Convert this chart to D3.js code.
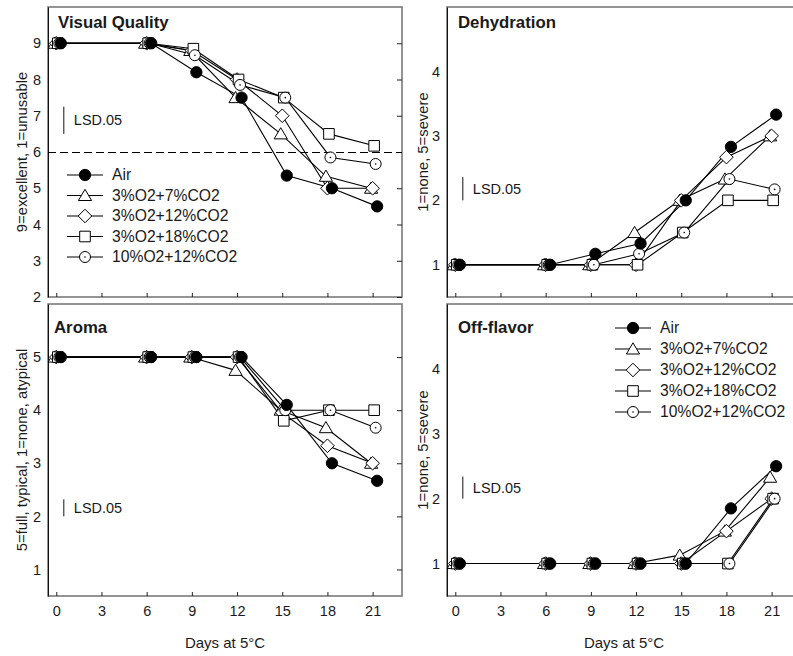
<!DOCTYPE html>
<html>
<head>
<meta charset="utf-8">
<script src="https://cdn.jsdelivr.net/npm/d3@7"></script>
<style>
  body { margin: 0; background: #fff; }
  svg text { font-family: "Liberation Sans", Arial, sans-serif; fill: #1a1a1a; }
</style>
</head>
<body>
<svg id="canvas" width="793" height="656"></svg>
<script>
/************* Data **************/
var days = [0, 6, 9, 12, 15, 18, 21];
var xTicks = [0, 3, 6, 9, 12, 15, 18, 21];
var seriesNames = ["Air", "3%O2+7%CO2", "3%O2+12%CO2", "3%O2+18%CO2", "10%O2+12%CO2"];

// Visual Quality
var visualAir      = [9, 9, 8.2, 7.5, 5.35, 5.0, 4.5];
var visualO3C7     = [9, 9, 8.8, 7.5, 6.5, 5.33, 5.0];
var visualO3C12    = [9, 9, 8.8, 8.0, 7.0, 5.0, 5.0];
var visualO3C18    = [9, 9, 8.85, 8.0, 7.5, 6.5, 6.17];
var visualO10C12   = [9, 9, 8.67, 7.85, 7.5, 5.85, 5.67];

// Dehydration
var dehydAir       = [1, 1, 1.17, 1.33, 2.0, 2.83, 3.33];
var dehydO3C7      = [1, 1, 1.0, 1.5, 2.0, 2.33, 3.0];
var dehydO3C12     = [1, 1, 1.0, 1.0, 2.0, 2.67, 3.0];
var dehydO3C18     = [1, 1, 1.0, 1.0, 1.5, 2.0, 2.0];
var dehydO10C12    = [1, 1, 1.0, 1.17, 1.5, 2.33, 2.17];

// Aroma
var aromaAir       = [5, 5, 5, 5, 4.1, 3.0, 2.67];
var aromaO3C7      = [5, 5, 5, 4.75, 4.0, 3.67, 3.0];
var aromaO3C12     = [5, 5, 5, 5, 3.95, 3.33, 3.0];
var aromaO3C18     = [5, 5, 5, 5, 3.8, 4.0, 4.0];
var aromaO10C12    = [5, 5, 5, 5, 4.0, 4.0, 3.67];

// Off-flavor
var offAir         = [1, 1, 1, 1, 1, 1.85, 2.5];
var offO3C7        = [1, 1, 1, 1, 1.13, 1.5, 2.33];
var offO3C12       = [1, 1, 1, 1, 1, 1.5, 2.0];
var offO3C18       = [1, 1, 1, 1, 1, 1.0, 2.0];
var offO10C12      = [1, 1, 1, 1, 1, 1.0, 2.0];

var panelTitles = ["Visual Quality", "Dehydration", "Aroma", "Off-flavor"];
var yTitles = ["9=excellent, 1=unusable", "1=none, 5=severe",
               "5=full, typical, 1=none, atypical", "1=none, 5=severe"];
var yDomains = [[2, 10], [0.5, 5], [0.5, 6], [0.5, 5]];
var yTicks = [[2, 3, 4, 5, 6, 7, 8, 9], [1, 2, 3, 4], [1, 2, 3, 4, 5], [1, 2, 3, 4]];
var lsdLength = [0.75, 0.36, 0.32, 0.34];
var lsdBase = [6.5, 2.0, 2.0, 2.0];
var xTitle = "Days at 5°C";

var panelSeries = [
    [visualAir, visualO3C7, visualO3C12, visualO3C18, visualO10C12],
    [dehydAir, dehydO3C7, dehydO3C12, dehydO3C18, dehydO10C12],
    [aromaAir, aromaO3C7, aromaO3C12, aromaO3C18, aromaO10C12],
    [offAir, offO3C7, offO3C12, offO3C18, offO10C12]
];


/********** Initialisation *********/
var svg = d3.select("#canvas");

// panel boxes: left, top, right, bottom
var boxes = [
    {x0: 48,  y0: 7,   x1: 402, y1: 297},
    {x0: 447, y0: 7,   x1: 801, y1: 297},
    {x0: 48,  y0: 304, x1: 402, y1: 596},
    {x0: 447, y0: 304, x1: 801, y1: 596}
];
var titlePos = [[58, 28], [458, 28], [54, 333], [458, 333]];
var yTitleX = [22, 423, 22, 423];

// small shift in days so overlapping markers stay visible (as in original figure)
var jitter = [0.3, -0.1, 0, 0.1, 0.2];
// draw order: air last so the filled circles sit on top
var drawOrder = [1, 2, 3, 4, 0];


/*********** Markers *************/
function markerPath(k)
{
    if (k == 0) return d3.symbol().type(d3.symbolCircle).size(100)();
    if (k == 1) return "M0,-6.2L6.6,5L-6.6,5Z";
    if (k == 2) return "M0,-6.8L6.8,0L0,6.8L-6.8,0Z";
    if (k == 3) return "M-5.3,-5.3L5.3,-5.3L5.3,5.3L-5.3,5.3Z";
    return d3.symbol().type(d3.symbolCircle).size(95)();
}

function drawMarker(sel, k)
{
    sel.append("path")
        .attr("d", markerPath(k))
        .attr("fill", k == 0 ? "#000" : "#fff")
        .attr("stroke", "#000")
        .attr("stroke-width", 1);
    if (k == 4) {
        sel.append("circle")
            .attr("r", 0.8)
            .attr("fill", "#000");
    }
}


/********** Panels ***********/
panelSeries.forEach(function(series, p) {
    var b = boxes[p];
    var x = d3.scaleLinear().domain([-0.55, 22.95]).range([b.x0, b.x1]);
    var y = d3.scaleLinear().domain(yDomains[p]).range([b.y1, b.y0]);

    var g = svg.append("g").attr("class", "panel");

    // frame
    g.append("rect")
        .attr("x", b.x0).attr("y", b.y0)
        .attr("width", b.x1 - b.x0).attr("height", b.y1 - b.y0)
        .attr("fill", "none")
        .attr("stroke", "#7a7a7a")
        .attr("stroke-width", 1.6);

    // x axis (ticks inward)
    var xa = g.append("g")
        .attr("transform", "translate(0," + b.y1 + ")")
        .call(d3.axisBottom(x).tickValues(xTicks).tickSizeInner(-4).tickSizeOuter(0)
              .tickPadding(10).tickFormat(p < 2 ? "" : d3.format("d")));
    xa.select(".domain").remove();
    xa.selectAll("line").attr("stroke", "#222");
    xa.selectAll("text").attr("font-size", 14.5).attr("fill", "#1a1a1a")
        .attr("font-family", "Liberation Sans, Arial, sans-serif");

    // left y axis with labels
    var ya = g.append("g")
        .attr("transform", "translate(" + b.x0 + ",0)")
        .call(d3.axisLeft(y).tickValues(yTicks[p]).tickSize(0).tickPadding(7)
              .tickFormat(d3.format("d")));
    ya.select(".domain").attr("stroke", "#111").attr("stroke-width", 1);
    ya.selectAll("text").attr("font-size", 14.5).attr("fill", "#1a1a1a")
        .attr("font-family", "Liberation Sans, Arial, sans-serif");

    // right y ticks, inward
    var yr = g.append("g")
        .attr("transform", "translate(" + b.x1 + ",0)")
        .call(d3.axisRight(y).tickValues(yTicks[p]).tickSizeInner(-5).tickSizeOuter(0)
              .tickFormat(""));
    yr.select(".domain").remove();
    yr.selectAll("line").attr("stroke", "#222");

    // x title
    if (p >= 2) {
        g.append("text")
            .attr("x", (b.x0 + b.x1) / 2)
            .attr("y", 648)
            .attr("text-anchor", "middle")
            .attr("font-size", 15)
            .text(xTitle);
    }

    // y title
    g.append("text")
        .attr("transform", "translate(" + yTitleX[p] + "," + ((b.y0 + b.y1) / 2) + ") rotate(-90)")
        .attr("text-anchor", "middle")
        .attr("dy", "0.35em")
        .attr("font-size", 14.8)
        .text(yTitles[p]);

    // panel title
    g.append("text")
        .attr("x", titlePos[p][0])
        .attr("y", titlePos[p][1])
        .attr("font-size", 16.8)
        .attr("font-weight", "bold")
        .text(panelTitles[p]);

    // dashed reference line at 6 on visual quality
    if (p == 0) {
        g.append("line")
            .attr("x1", b.x0).attr("x2", b.x1)
            .attr("y1", Math.round(y(6)) + 0.5).attr("y2", Math.round(y(6)) + 0.5)
            .attr("stroke", "#000")
            .attr("stroke-width", 1.2)
            .attr("stroke-dasharray", "8,4");
    }

    // LSD bar
    g.append("line")
        .attr("x1", x(0.5)).attr("x2", x(0.5))
        .attr("y1", y(lsdBase[p])).attr("y2", y(lsdBase[p] + lsdLength[p]))
        .attr("stroke", "#111")
        .attr("stroke-width", 1);
    g.append("text")
        .attr("x", x(0.5) + 10)
        .attr("y", y(lsdBase[p] + lsdLength[p] / 2))
        .attr("dy", "0.35em")
        .attr("font-size", 14.5)
        .text("LSD.05");

    // series lines and markers
    var line = d3.line()
        .x(function(d) { return d[0]; })
        .y(function(d) { return d[1]; });

    drawOrder.forEach(function(k) {
        var pts = days.map(function(d, i) {
            return [x(d + jitter[k]), y(series[k][i])];
        });
        g.append("path")
            .attr("d", line(pts))
            .attr("fill", "none")
            .attr("stroke", "#000")
            .attr("stroke-width", 1.1);
    });
    drawOrder.forEach(function(k) {
        days.forEach(function(d, i) {
            var m = g.append("g")
                .attr("transform", "translate(" + x(d + jitter[k]) + "," + y(series[k][i]) + ")");
            drawMarker(m, k);
        });
    });
});


/********** Legends ************/
function legend(lx, ly, gap)
{
    var lg = svg.append("g").attr("class", "legend");
    seriesNames.forEach(function(name, k) {
        var yy = ly + k * gap;
        lg.append("line")
            .attr("x1", lx).attr("x2", lx + 36)
            .attr("y1", yy).attr("y2", yy)
            .attr("stroke", "#000")
            .attr("stroke-width", 1.1);
        drawMarker(lg.append("g").attr("transform", "translate(" + (lx + 18) + "," + yy + ")"), k);
        lg.append("text")
            .attr("x", lx + 45)
            .attr("y", yy)
            .attr("dy", "0.35em")
            .attr("font-size", 15.7)
            .text(name);
    });
}

legend(67, 175, 20.5);
legend(615, 328, 21);
</script>
</body>
</html>
